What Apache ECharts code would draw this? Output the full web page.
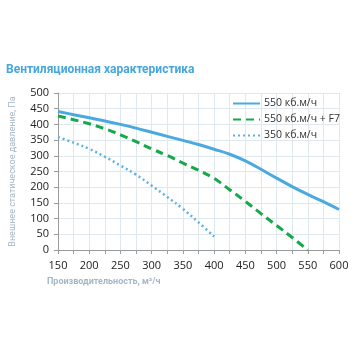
<!DOCTYPE html>
<html><head><meta charset="utf-8">
<script src="https://cdn.jsdelivr.net/npm/echarts@6/dist/echarts.min.js"></script>
<style>html,body{margin:0;padding:0;background:#fff}#c{width:356px;height:356px}</style>
</head><body><div id="c"></div>
<script>
const titleText = 'Вентиляционная характеристика';
const yName = 'Внешнее статическое давление, Па';
const xName = 'Производительность, м³/ч';
const seriesNames = ['550 кб.м/ч', '550 кб.м/ч + F7', '350 кб.м/ч'];
const flowA = [150,175,200,225,250,275,300,325,350,375,400,425,450,475,500,525,550,575,600];
const pressA = [441,431,421,411,400,388,375,362,349,336,321,305,284,257,229,202,177,154,129];
const flowB = [150,175,200,225,250,275,300,325,350,375,400,425,450,475,500,525,550];
const pressB = [427,415,402,386,367,345,322,301,277,254,228,192,155,116,78,40,0];
const flowC = [150,175,200,225,250,275,300,325,350,375,400];
const pressC = [360,342,322,297,269,240,205,169,131,88,43];
const xTicks = [150,200,250,300,350,400,450,500,550,600];
const yTicks = [0,50,100,150,200,250,300,350,400,450,500];

const pair = (xs, ys) => xs.map((x, i) => [x, ys[i]]);
const font = 'Roboto, "Open Sans", sans-serif';
const lblFont = '"Open Sans", "Liberation Sans", sans-serif';
const chart = echarts.init(document.getElementById('c'), null, {renderer: 'canvas'});
chart.setOption({
  animation: false,
  title: {text: titleText, left: 6, top: 64, padding: 0, textStyle: {color: '#45a7dd', fontSize: 12, fontWeight: 'bold', fontFamily: font}},
  legend: {
    orient: 'vertical', left: 232, top: 98, padding: 0, itemWidth: 27, itemHeight: 10, itemGap: 5,
    itemStyle: {opacity: 0},
    textStyle: {fontSize: 10.5, color: '#333', fontFamily: lblFont, padding: [0, 0, 0, -1]},
    data: seriesNames
  },
  grid: {left: 51, right: 17, top: 93, bottom: 106},
  xAxis: {
    type: 'value', min: xTicks[0], max: xTicks[xTicks.length - 1], interval: 50,
    axisLine: {lineStyle: {color: '#9a9a9a'}},
    axisTick: {show: true, length: 4, lineStyle: {color: '#9a9a9a'}},
    minorTick: {show: true, splitNumber: 2, length: 4, lineStyle: {color: '#9a9a9a'}},
    splitLine: {show: true, lineStyle: {color: '#dfe7ef'}},
    minorSplitLine: {show: true, lineStyle: {color: '#dfe7ef'}},
    axisLabel: {color: '#222', fontSize: 11, margin: 10, fontFamily: lblFont}
  },
  yAxis: {
    type: 'value', min: yTicks[0], max: yTicks[yTicks.length - 1], interval: 50,
    axisLine: {show: true, lineStyle: {color: '#9a9a9a'}},
    axisTick: {show: true, length: 4, lineStyle: {color: '#9a9a9a'}},
    splitLine: {show: true, lineStyle: {color: '#dfe7ef'}},
    axisLabel: {color: '#222', fontSize: 11, margin: 9, fontFamily: lblFont},
    name: yName, nameLocation: 'middle', nameGap: 41, nameRotate: 90,
    nameTextStyle: {color: '#a3b6c8', fontSize: 9, fontFamily: font}
  },
  graphic: [{
    type: 'text', left: 47, top: 277,
    style: {text: xName, fill: '#a3b6c8', fontSize: 9, fontWeight: 'bold', fontFamily: font}
  }],
  series: [
    {name: seriesNames[0], type: 'line', smooth: 0.4, symbol: 'none', data: pair(flowA, pressA),
     lineStyle: {color: '#4aa9df', width: 3}, itemStyle: {color: '#4aa9df'}},
    {name: seriesNames[1], type: 'line', smooth: 0.4, symbol: 'none', data: pair(flowB, pressB),
     lineStyle: {color: '#17a84b', width: 3, type: [8, 5]}, itemStyle: {color: '#17a84b'}},
    {name: seriesNames[2], type: 'line', smooth: 0.4, symbol: 'none', data: pair(flowC, pressC),
     lineStyle: {color: '#5ab3e3', width: 2.5, type: [2, 3]}, itemStyle: {color: '#5ab3e3'}}
  ]
});
</script></body></html>
